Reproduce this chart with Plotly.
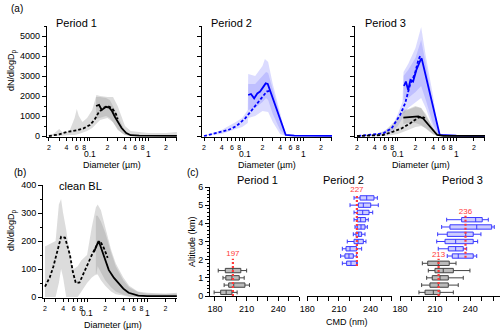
import math
import plotly.graph_objects as go

W, H = 500, 331
FONT = "Arial, Liberation Sans, sans-serif"

# ---------------- Panel (a) : Period 1 ----------------
p1_dash_D = [0.02, 0.03, 0.04, 0.06, 0.078, 0.1, 0.12, 0.14, 0.17, 0.2, 0.24, 0.28, 0.3]
p1_dash_N = [0, 80, 200, 280, 380, 550, 800, 1150, 1400, 1500, 1400, 1100, 850]
p1_solid_D = [0.128, 0.144, 0.16, 0.19, 0.215, 0.24, 0.27, 0.3, 0.35, 0.42, 0.5, 0.7, 1, 2, 3.1]
p1_solid_N = [1500, 1560, 1300, 1460, 1420, 1250, 950, 700, 400, 150, 40, 20, 10, 5, 5]
p1_band1_D = [0.02, 0.025, 0.03, 0.035, 0.045, 0.055, 0.06, 0.065, 0.075, 0.09, 0.11, 0.13, 0.15, 0.2, 0.25, 0.3, 0.4, 0.5, 0.7, 1, 2, 3.1]
p1_band1_hi = [0, 150, 350, 150, 250, 900, 1350, 1000, 700, 900, 1300, 2050, 2000, 1950, 1950, 1500, 500, 250, 200, 150, 150, 200]
p1_band1_lo = [0, 0, 0, 0, 50, 50, 80, 100, 150, 250, 400, 600, 800, 900, 700, 300, 50, 0, 0, 0, 0, 0]
p1_band2_D = [0.128, 0.15, 0.19, 0.22, 0.25, 0.3, 0.35, 0.4, 0.5]
p1_band2_hi = [1950, 1950, 1900, 1800, 1500, 1000, 550, 250, 60]
p1_band2_lo = [850, 900, 1000, 900, 700, 350, 150, 50, 0]

# ---------------- Panel (a) : Period 2 ----------------
p2_dash_D = [0.02, 0.037, 0.052, 0.072, 0.101, 0.139, 0.194, 0.236, 0.27]
p2_dash_N = [0, 170, 300, 500, 880, 1380, 1880, 2220, 2270]
p2_solid_D = [0.114, 0.127, 0.144, 0.163, 0.182, 0.207, 0.227, 0.246, 0.5, 0.7, 1, 2, 3.1]
p2_solid_N = [2050, 2100, 1880, 2130, 2220, 2470, 2630, 2600, 50, 20, 15, 10, 10]
p2_band1_D = [0.02, 0.04, 0.07, 0.09, 0.112, 0.114, 0.15, 0.2, 0.22, 0.25, 0.3, 0.4, 0.5, 0.7, 3.1]
p2_band1_hi = [0, 300, 700, 900, 1300, 3100, 3000, 3500, 3850, 3700, 2600, 1200, 60, 50, 50]
p2_band1_lo = [0, 100, 350, 450, 650, 900, 1000, 1250, 1250, 1200, 700, 100, 0, 0, 0]
p2_band2_D = [0.114, 0.15, 0.2, 0.23, 0.25, 0.3, 0.4, 0.5]
p2_band2_hi = [2600, 2600, 3000, 3200, 3150, 2300, 1000, 50]
p2_band2_lo = [1300, 1400, 1700, 1900, 1800, 1100, 300, 0]

# ---------------- Panel (a) : Period 3 ----------------
p3_bdash_D = [0.021, 0.056, 0.078, 0.109, 0.133, 0.161, 0.196, 0.224, 0.246]
p3_bdash_N = [0, 130, 380, 1050, 1630, 2550, 3130, 3800, 4050]
p3_bsolid_D = [0.127, 0.137, 0.15, 0.164, 0.182, 0.207, 0.246, 0.255, 0.52, 0.7, 1, 2, 3.1]
p3_bsolid_N = [2500, 2720, 2300, 2800, 2720, 3300, 3830, 3880, 50, 20, 15, 10, 10]
p3_kdash_D = [0.02, 0.056, 0.083, 0.116, 0.161, 0.224, 0.26, 0.291]
p3_kdash_N = [0, 50, 220, 380, 630, 920, 960, 900]
p3_ksolid_D = [0.124, 0.15, 0.2, 0.224, 0.27, 0.355, 0.47, 0.6, 1, 2, 3.1]
p3_ksolid_N = [920, 940, 960, 980, 880, 470, 50, 10, 5, 5, 5]
p3_bband1_D = [0.02, 0.05, 0.08, 0.1, 0.12, 0.125, 0.15, 0.2, 0.25, 0.3, 0.4, 0.5, 0.7, 3.1]
p3_bband1_hi = [0, 150, 500, 1100, 1700, 3200, 3600, 4400, 5450, 4000, 2000, 100, 50, 50]
p3_bband1_lo = [0, 0, 200, 500, 900, 1100, 1400, 1700, 1900, 1400, 400, 0, 0, 0]
p3_bband2_D = [0.125, 0.15, 0.2, 0.25, 0.3, 0.4, 0.5]
p3_bband2_hi = [3000, 3300, 3900, 4800, 3600, 1700, 50]
p3_bband2_lo = [1800, 1900, 2200, 2500, 1800, 600, 0]
p3_kband1_D = [0.02, 0.04, 0.06, 0.08, 0.1, 0.12, 0.15, 0.2, 0.25, 0.3, 0.4, 0.5, 0.7, 3.1]
p3_kband1_hi = [0, 80, 250, 600, 900, 1200, 1300, 1450, 1400, 1100, 400, 80, 40, 40]
p3_kband1_lo = [0, 0, 0, 50, 100, 200, 300, 450, 500, 400, 100, 0, 0, 0]
p3_kband2_D = [0.124, 0.15, 0.2, 0.25, 0.3, 0.4, 0.5]
p3_kband2_hi = [1300, 1350, 1500, 1400, 1000, 400, 50]
p3_kband2_lo = [600, 650, 650, 550, 350, 80, 0]

# ---------------- Panel (b) : clean BL ----------------
bl_dash_D = [0.02, 0.024, 0.0275, 0.033, 0.037, 0.043, 0.048, 0.052, 0.058, 0.065, 0.075, 0.093, 0.12, 0.145, 0.165, 0.19, 0.22]
bl_dash_N = [37, 70, 108, 180, 215, 212, 180, 150, 90, 50, 52, 100, 150, 185, 200, 175, 140]
bl_solid_D = [0.13, 0.145, 0.155, 0.165, 0.18, 0.2, 0.23, 0.28, 0.33, 0.4, 0.49, 0.6, 0.71, 1, 2, 3.1]
bl_solid_N = [160, 190, 200, 185, 160, 130, 96, 68, 49, 30, 15, 8, 5, 3, 2, 3]
bl_band1_D = [0.02, 0.025, 0.03, 0.034, 0.037, 0.04, 0.045, 0.05, 0.055, 0.06, 0.07, 0.08, 0.1, 0.12, 0.14, 0.15, 0.17, 0.2, 0.25, 0.3, 0.4, 0.5, 0.7, 1, 2, 3.1]
bl_band1_hi = [180, 190, 200, 330, 350, 300, 240, 170, 120, 100, 110, 130, 150, 250, 320, 330, 310, 250, 170, 120, 70, 40, 20, 15, 12, 15]
bl_band1_lo = [0, 0, 0, 50, 100, 70, 0, 0, 0, 0, 0, 20, 50, 70, 80, 80, 60, 40, 20, 10, 5, 0, 0, 0, 0, 0]
bl_band2_D = [0.14, 0.15, 0.17, 0.2, 0.25, 0.3, 0.4, 0.5, 0.7, 1, 3.1]
bl_band2_hi = [290, 290, 270, 230, 160, 110, 60, 35, 18, 12, 12]
bl_band2_lo = [75, 110, 90, 60, 35, 20, 8, 3, 0, 0, 0]

# ---------------- Panel (c) : CMD box plots ----------------
c1_alt = [0.2, 0.6, 1.0, 1.4]
c1_min = [179.2, 188.7, 187.6, 183.1]
c1_q1 = [185.4, 193.0, 190.3, 189.8]
c1_med = [190.6, 197.8, 196.1, 196.9]
c1_q3 = [196.1, 208.4, 203.0, 204.5]
c1_max = [201.0, 212.7, 207.7, 210.0]

c2_alt = [1.8, 2.2, 2.6, 3.0, 3.4, 3.8, 4.2, 4.6, 5.0, 5.4]
c2_min = [213.2, 211.6, 213.2, 217.9, 223.6, 225.2, 224.3, 224.3, 220.5, 224.3]
c2_q1 = [217.3, 215.7, 216.7, 224.3, 226.2, 227.4, 227.4, 227.4, 228.4, 230.0]
c2_med = [221.4, 219.5, 220.5, 228.1, 228.7, 230.9, 230.6, 232.5, 233.1, 236.3]
c2_q3 = [226.8, 223.6, 226.8, 233.1, 231.5, 234.7, 235.3, 238.5, 240.1, 243.2]
c2_max = [227.4, 226.8, 231.5, 235.6, 234.7, 236.9, 237.8, 242.0, 247.3, 246.4]

c3g_alt = [0.2, 0.6, 1.0, 1.4, 1.8]
c3g_min = [196.2, 198.5, 202.8, 204.2, 199.1]
c3g_q1 = [201.4, 205.6, 207.6, 209.9, 203.7]
c3g_med = [208.5, 212.7, 214.2, 217.0, 212.7]
c3g_q3 = [214.2, 221.3, 221.3, 225.6, 222.1]
c3g_max = [225.6, 229.8, 234.1, 239.8, 227.9]

c3b_alt = [2.2, 2.6, 3.0, 3.4, 3.8, 4.2]
c3b_min = [220.4, 212.7, 211.4, 212.2, 215.6, 219.9]
c3b_q1 = [224.7, 221.3, 218.5, 220.4, 222.7, 232.7]
c3b_med = [229.8, 227.6, 227.6, 236.2, 245.6, 244.7]
c3b_q3 = [242.6, 234.1, 242.6, 242.6, 258.4, 250.3]
c3b_max = [245.6, 237.0, 246.4, 249.2, 260.6, 255.5]

# reference CMD lines: value, altitude from, altitude to, label altitude
ref_val = [197, 227, 236, 213]
ref_y0 = [0.0, 1.65, 2.1, 0.0]
ref_y1 = [2.05, 5.6, 4.45, 2.05]
ref_lab_y = [2.3, 5.85, 4.65, 2.25]
ref_axis = [("x5", "y5"), ("x6", "y6"), ("x7", "y7"), ("x7", "y7")]

# tick labels for log diameter axes
log_major_vals = [0.02, 0.04, 0.06, 0.08, 0.2, 0.4, 0.6, 0.8, 2]
log_major_text = ["2", "4", "6", "8", "2", "4", "6", "8", "2"]
log_minor_vals = [0.03, 0.05, 0.07, 0.09, 0.1, 0.3, 0.5, 0.7, 0.9, 1, 3]
decade_vals = [0.1, 1]
decade_text = ["0.1", "1"]

BLACK = "black"
BLUE = "#0000ff"
GRAY_L = "rgba(150,150,150,0.33)"
BLUE_L = "rgba(90,90,255,0.22)"

fig = go.Figure()


def band(D, lo, hi, color, xa, ya):
    fig.add_trace(go.Scatter(x=list(D) + list(D)[::-1], y=list(hi) + list(lo)[::-1],
                             fill="toself", fillcolor=color, mode="lines",
                             line=dict(width=0), xaxis=xa, yaxis=ya,
                             hoverinfo="skip", showlegend=False))


def curve(D, N, color, dashed, xa, ya):
    fig.add_trace(go.Scatter(x=D, y=N, mode="lines",
                             line=dict(color=color, width=1.8,
                                       dash="3px,2px" if dashed else "solid"),
                             xaxis=xa, yaxis=ya, hoverinfo="skip", showlegend=False))


# (a) Period 1
band(p1_band1_D, p1_band1_lo, p1_band1_hi, GRAY_L, "x", "y")
band(p1_band2_D, p1_band2_lo, p1_band2_hi, GRAY_L, "x", "y")
curve(p1_dash_D, p1_dash_N, BLACK, True, "x", "y")
curve(p1_solid_D, p1_solid_N, BLACK, False, "x", "y")
# (a) Period 2
band(p2_band1_D, p2_band1_lo, p2_band1_hi, BLUE_L, "x2", "y2")
band(p2_band2_D, p2_band2_lo, p2_band2_hi, BLUE_L, "x2", "y2")
curve(p2_dash_D, p2_dash_N, BLUE, True, "x2", "y2")
curve(p2_solid_D, p2_solid_N, BLUE, False, "x2", "y2")
# (a) Period 3
band(p3_bband1_D, p3_bband1_lo, p3_bband1_hi, BLUE_L, "x3", "y3")
band(p3_bband2_D, p3_bband2_lo, p3_bband2_hi, BLUE_L, "x3", "y3")
band(p3_kband1_D, p3_kband1_lo, p3_kband1_hi, GRAY_L, "x3", "y3")
band(p3_kband2_D, p3_kband2_lo, p3_kband2_hi, GRAY_L, "x3", "y3")
curve(p3_bdash_D, p3_bdash_N, BLUE, True, "x3", "y3")
curve(p3_bsolid_D, p3_bsolid_N, BLUE, False, "x3", "y3")
curve(p3_kdash_D, p3_kdash_N, BLACK, True, "x3", "y3")
curve(p3_ksolid_D, p3_ksolid_N, BLACK, False, "x3", "y3")
# (b) clean BL
band(bl_band1_D, bl_band1_lo, bl_band1_hi, GRAY_L, "x4", "y4")
band(bl_band2_D, bl_band2_lo, bl_band2_hi, GRAY_L, "x4", "y4")
curve(bl_dash_D, bl_dash_N, BLACK, True, "x4", "y4")
curve(bl_solid_D, bl_solid_N, BLACK, False, "x4", "y4")


def boxes(alt, mn, q1, med, q3, mx, line_color, fill, xa, ya):
    fig.add_trace(go.Box(orientation="h", y=alt, lowerfence=mn, q1=q1, median=med,
                         q3=q3, upperfence=mx, width=0.24, whiskerwidth=0.9,
                         fillcolor=fill, line=dict(color=line_color, width=1),
                         boxpoints=False, xaxis=xa, yaxis=ya, hoverinfo="skip",
                         showlegend=False))


boxes(c1_alt, c1_min, c1_q1, c1_med, c1_q3, c1_max, "#444444", "rgba(120,120,120,0.5)", "x5", "y5")
boxes(c2_alt, c2_min, c2_q1, c2_med, c2_q3, c2_max, "#3a3aff", "rgba(90,90,255,0.3)", "x6", "y6")
boxes(c3g_alt, c3g_min, c3g_q1, c3g_med, c3g_q3, c3g_max, "#444444", "rgba(120,120,120,0.5)", "x7", "y7")
boxes(c3b_alt, c3b_min, c3b_q1, c3b_med, c3b_q3, c3b_max, "#3a3aff", "rgba(90,90,255,0.3)", "x7", "y7")

RED = "#ff3b3b"
for v, y0, y1, ly, (xa, ya) in zip(ref_val, ref_y0, ref_y1, ref_lab_y, ref_axis):
    fig.add_trace(go.Scatter(x=[v, v], y=[y0, y1], mode="lines",
                             line=dict(color=RED, width=2.2, dash="2px,2px"),
                             xaxis=xa, yaxis=ya, hoverinfo="skip", showlegend=False))
    fig.add_trace(go.Scatter(x=[v], y=[ly], mode="text", text=[str(v)],
                             textfont=dict(color=RED, size=8, family=FONT),
                             xaxis=xa, yaxis=ya, hoverinfo="skip", showlegend=False))


def dx(a, b):
    return [a / W, b / W]


def dy(top, bottom):
    return [1 - bottom / H, 1 - top / H]


common = dict(showline=True, linecolor="black", linewidth=1, ticks="outside",
              tickcolor="black", tickwidth=1, showgrid=False, zeroline=False,
              automargin=False)


def logx(dom, anchor, rng):
    return dict(type="log", domain=dom, anchor=anchor, range=rng, tickmode="array",
                tickvals=log_major_vals, ticktext=log_major_text, ticklen=3, tickangle=0,
                tickfont=dict(size=7, family=FONT, color="black"),
                minor=dict(ticks="outside", tickvals=log_minor_vals, ticklen=3,
                           tickcolor="black"), **common)


def liny(dom, anchor, rng, dtick, mdtick, labels=True, size=9):
    return dict(domain=dom, anchor=anchor, range=rng, tick0=0, dtick=dtick, ticklen=4,
                showticklabels=labels, tickfont=dict(size=size, family=FONT, color="black"),
                minor=dict(ticks="outside", dtick=mdtick, ticklen=2, tickcolor="black"),
                **common)


def cmdx(dom, anchor, rng):
    return dict(domain=dom, anchor=anchor, range=rng, tick0=180, dtick=30, ticklen=4,
                tickfont=dict(size=9, family=FONT, color="black"),
                minor=dict(ticks="outside", dtick=10, ticklen=4, tickcolor="black"), **common)


a_dom_y = dy(26, 137.2)
a_rng = [-1.735, 0.49]
layout = dict(
    template="none",
    width=W, height=H, margin=dict(l=0, r=0, t=0, b=0, autoexpand=False),
    paper_bgcolor="white", plot_bgcolor="rgba(0,0,0,0)",
    font=dict(family=FONT, size=9, color="black"), showlegend=False,
    xaxis=logx(dx(46.8, 176.9), "y", a_rng),
    yaxis=liny(a_dom_y, "x", [-60, 5500], 1000, 500),
    xaxis2=logx(dx(201.9, 332), "y2", a_rng),
    yaxis2=liny(a_dom_y, "x2", [-60, 5500], 1000, 500, labels=False),
    xaxis3=logx(dx(354.9, 485), "y3", a_rng),
    yaxis3=liny(a_dom_y, "x3", [-60, 5500], 1000, 500, labels=False),
    xaxis4=logx(dx(43, 177), "y4", [-1.732, 0.494]),
    yaxis4=liny(dy(185, 298.4), "x4", [-5, 400], 100, 50),
    xaxis5=cmdx(dx(210, 299.4), "y5", [175.3, 260]),
    yaxis5=liny(dy(187, 296), "x5", [0, 6], 1, 0.2),
    xaxis6=cmdx(dx(307.3, 391.7), "y6", [180, 260]),
    yaxis6=dict(domain=dy(187, 296), anchor="x6", range=[0, 6], visible=False),
    xaxis7=cmdx(dx(400, 500), "y7", [180, 265.5]),
    yaxis7=dict(domain=dy(187, 296), anchor="x7", range=[0, 6], visible=False),
)
fig.update_layout(**layout)


def note(text, x, y, size=10, angle=0, xanchor="center"):
    fig.add_annotation(text=text, x=x / W, y=1 - y / H, xref="paper", yref="paper",
                       showarrow=False, xanchor=xanchor, yanchor="middle",
                       textangle=angle, font=dict(size=size, family=FONT, color="black"))


# decade labels on a second row under the log axes
for xa, ybot, off in (("x", 137.2, 16.5), ("x2", 137.2, 16.5), ("x3", 137.2, 16.5),
                      ("x4", 298.4, 14.5)):
    for v, t in zip(decade_vals, decade_text):
        fig.add_annotation(text=t, x=math.log10(v), y=1 - (ybot + off) / H, xref=xa,
                           yref="paper", showarrow=False, xanchor="center",
                           yanchor="middle", font=dict(size=8.5, family=FONT, color="black"))

note("(a)", 9, 8, 10, xanchor="left")
note("(b)", 12, 172, 10, xanchor="left")
note("(c)", 185, 172, 10, xanchor="left")
note("Period 1", 54, 23, 11, xanchor="left")
note("Period 2", 209, 23, 11, xanchor="left")
note("Period 3", 363, 23, 11, xanchor="left")
note("clean BL", 57, 186, 11, xanchor="left")
note("Period 1", 257, 180, 11)
note("Period 2", 343, 180, 11)
note("Period 3", 462, 180, 11)
note("dN/dlogD<sub>p</sub>", 12, 70, 9, angle=-90)
note("dN/dlogD<sub>p</sub>", 12, 230, 9, angle=-90)
note("Altitude (km)", 192, 242, 9, angle=-90)
note("Diameter (µm)", 112, 165, 9)
note("Diameter (µm)", 267, 165, 9)
note("Diameter (µm)", 421, 165, 9)
note("Diameter (µm)", 113, 324.5, 9)
note("CMD (nm)", 347, 322, 9)

fig.write_html("out.html", config={"displayModeBar": False},
               post_script="document.body.style.margin='0';document.body.style.overflow='hidden';")
